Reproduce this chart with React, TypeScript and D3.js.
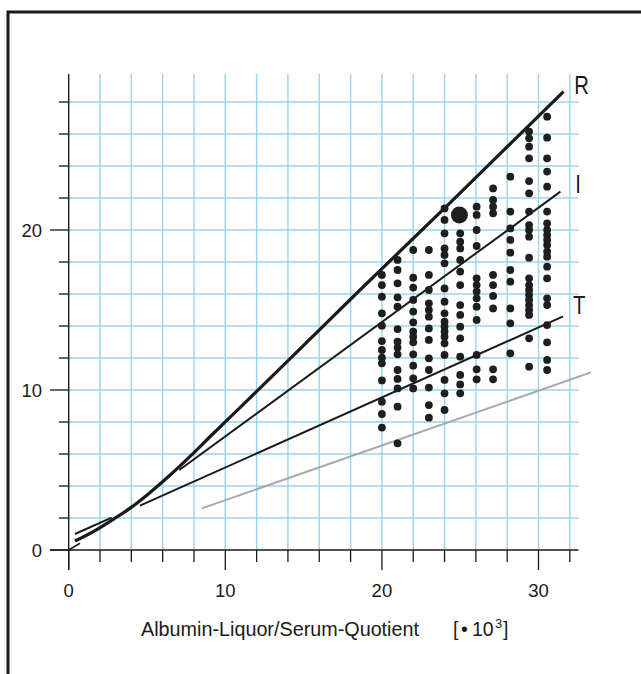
import React from "react";
import * as d3 from "d3";

const xTickLabels = [0, 10, 20, 30];
const yTickLabels = [0, 10, 20];
const gridX = d3.range(2, 33, 2);
const gridY = d3.range(2, 29, 2);
const xMinor = d3.range(0, 33, 2);
const yMinor = d3.range(0, 29, 2);

// Dot columns: x value and y values
const col20 = [17.19, 16.56, 15.83, 14.79, 14.02, 13.06, 12.5, 12.02, 11.67, 10.6, 9.27, 8.5, 7.65];
const col21 = [18.13, 17.5, 16.67, 15.79, 15.21, 13.81, 13.02, 12.65, 12.23, 11.25, 10.69, 10.1, 8.96, 6.67];
const col22 = [18.75, 17.02, 16.4, 15.63, 14.9, 14.23, 13.65, 13.33, 12.98, 12.23, 11.52, 10.73, 10.1];
const col23 = [18.75, 17.19, 16.25, 15.42, 15.0, 14.58, 13.85, 13.13, 11.98, 11.25, 10.15, 9.06, 8.27];
const col24 = [21.35, 20.63, 19.79, 18.85, 18.44, 17.92, 16.35, 15.52, 14.79, 14.27, 13.96, 13.65, 13.33, 12.92, 12.19, 10.63, 9.79, 8.75];
const col25 = [19.79, 19.27, 18.85, 18.13, 17.4, 16.56, 15.31, 14.69, 13.96, 13.23, 12.08, 10.94, 10.35, 9.79];
const col26 = [21.46, 20.94, 20.0, 19.0, 16.98, 16.56, 16.15, 15.73, 15.21, 14.38, 12.19, 11.29, 10.67];
const col27 = [22.6, 21.88, 21.46, 21.04, 17.19, 16.56, 15.88, 15.1, 11.29, 10.67];
const col28 = [23.33, 21.15, 20.1, 19.38, 18.58, 17.5, 16.77, 15.1, 14.17, 12.29];
const col29 = [26.15, 25.73, 25.21, 24.48, 23.06, 22.29, 21.15, 20.31, 20.0, 19.58, 18.27, 16.98, 16.56, 16.25, 15.94, 15.63, 15.31, 15.0, 14.69, 13.23, 11.46];
const col30 = [27.08, 25.77, 24.48, 23.65, 22.71, 21.15, 20.42, 20.0, 19.69, 19.38, 19.06, 18.65, 18.33, 17.71, 16.98, 15.73, 15.31, 14.06, 12.98, 11.88, 11.25];

const columnX = [20, 21, 22, 23, 24, 25, 26.05, 27.1, 28.2, 29.4, 30.55];
const columns = [col20, col21, col22, col23, col24, col25, col26, col27, col28, col29, col30];

const bigDot: [number, number] = [24.95, 20.94];

// Lines
const lineR: [number, number][] = [
  [0.4, 0.56], [1.57, 1.15], [2.85, 1.92], [3.9, 2.6], [5.2, 3.6], [6.5, 4.7],
  [7.75, 5.85], [9.2, 7.25], [10.94, 8.9], [18.6, 16.25], [24.35, 21.7], [31.6, 28.65],
];
const lineOrigin: [number, number][] = [[0, 0], [0.72, 0.42]];
const lineShort: [number, number][] = [[0.4, 1.0], [2.74, 2.02]];
const lineI: [number, number][] = [[7.06, 5.0], [31.4, 22.4]];
const lineT: [number, number][] = [[4.55, 2.77], [31.57, 14.6]];
const lineGray: [number, number][] = [[8.5, 2.6], [33.35, 11.1]];

const lineLabels = ["R", "I", "T"];
const labelPos: [number, number][] = [[32.28, 28.45], [32.35, 22.3], [32.2, 14.7]];

const FONT = "'Liberation Sans', Arial, sans-serif";

export default function App() {
  const x = d3.scaleLinear().domain([0, 30]).range([68.7, 538.5]);
  const y = d3.scaleLinear().domain([0, 20]).range([550, 230]);
  const line = d3.line<[number, number]>().x((d) => x(d[0])).y((d) => y(d[1]));
  const curve = d3
    .line<[number, number]>()
    .x((d) => x(d[0]))
    .y((d) => y(d[1]))
    .curve(d3.curveMonotoneX);
  const grid = "#96d5f2";
  const xEnd = x(32.55);
  const yTop = y(29.75);
  const ink = "#1a1a1a";

  return (
    <svg
      width={641}
      height={674}
      style={{ position: "absolute", left: 0, top: 0 }}
      fontFamily={FONT}
    >
      <rect x={0} y={0} width={641} height={674} fill="#fff" />
      <path d="M8,674 V12 H641" fill="none" stroke={ink} strokeWidth={3} />

      {/* grid */}
      {gridX.map((v) => (
        <line key={"gx" + v} x1={x(v)} x2={x(v)} y1={yTop} y2={y(0)} stroke={grid} strokeWidth={1.4} />
      ))}
      {gridY.map((v) => (
        <line key={"gy" + v} x1={x(0)} x2={xEnd} y1={y(v)} y2={y(v)} stroke={grid} strokeWidth={1.4} />
      ))}

      {/* axes */}
      <line x1={x(0)} x2={x(0)} y1={yTop} y2={570} stroke={ink} strokeWidth={1.4} />
      <line x1={50} x2={xEnd} y1={y(0)} y2={y(0)} stroke={ink} strokeWidth={1.4} />
      {xMinor.map((v) => (
        <line
          key={"xt" + v}
          x1={x(v)}
          x2={x(v)}
          y1={y(0)}
          y2={v % 10 === 0 ? 570 : 562}
          stroke={ink}
          strokeWidth={1.3}
        />
      ))}
      {yMinor.map((v) => (
        <line
          key={"yt" + v}
          x1={v % 10 === 0 ? 50 : 59}
          x2={x(0)}
          y1={y(v)}
          y2={y(v)}
          stroke={ink}
          strokeWidth={1.3}
        />
      ))}
      {xTickLabels.map((v) => (
        <text key={"xl" + v} x={x(v)} y={597} textAnchor="middle" fontSize={18.5} fill={ink}>
          {v}
        </text>
      ))}
      {yTickLabels.map((v) => (
        <text key={"yl" + v} x={42} y={y(v) + 6.5} textAnchor="end" fontSize={18.5} fill={ink}>
          {v}
        </text>
      ))}
      <text x={141} y={636} fontSize={19.5} fill={ink} textLength={278} lengthAdjust="spacingAndGlyphs">
        Albumin-Liquor/Serum-Quotient
      </text>
      <text x={453} y={636} fontSize={19.5} fill={ink}>[</text>
      <text x={461} y={636} fontSize={19.5} fill={ink}>•</text>
      <text x={472} y={636} fontSize={19.5} fill={ink}>10</text>
      <text x={495} y={628} fontSize={13} fill={ink}>3</text>
      <text x={503} y={636} fontSize={19.5} fill={ink}>]</text>

      {/* lines */}
      <path d={line(lineGray) || ""} stroke="#a8a8a8" strokeWidth={2} fill="none" />
      <path d={line(lineT) || ""} stroke={ink} strokeWidth={2} fill="none" />
      <path d={line(lineI) || ""} stroke={ink} strokeWidth={2} fill="none" />
      <path d={line(lineShort) || ""} stroke={ink} strokeWidth={2} fill="none" />
      <path d={line(lineOrigin) || ""} stroke={ink} strokeWidth={1.6} fill="none" />
      <path d={curve(lineR) || ""} stroke={ink} strokeWidth={3.2} fill="none" />

      {lineLabels.map((l, i) => (
        <text
          key={l}
          transform={`translate(${x(labelPos[i][0])},${y(labelPos[i][1]) - 0.5}) scale(0.78,1)`}
          fontSize={26}
          fill={ink}
        >
          {l}
        </text>
      ))}

      {/* dots */}
      {columns.map((col, i) =>
        col.map((v, j) => (
          <circle key={i + "-" + j} cx={x(columnX[i])} cy={y(v)} r={3.9} fill="#1e1e1e" />
        ))
      )}
      <circle cx={x(bigDot[0])} cy={y(bigDot[1])} r={8.5} fill="#1e1e1e" />
    </svg>
  );
}
